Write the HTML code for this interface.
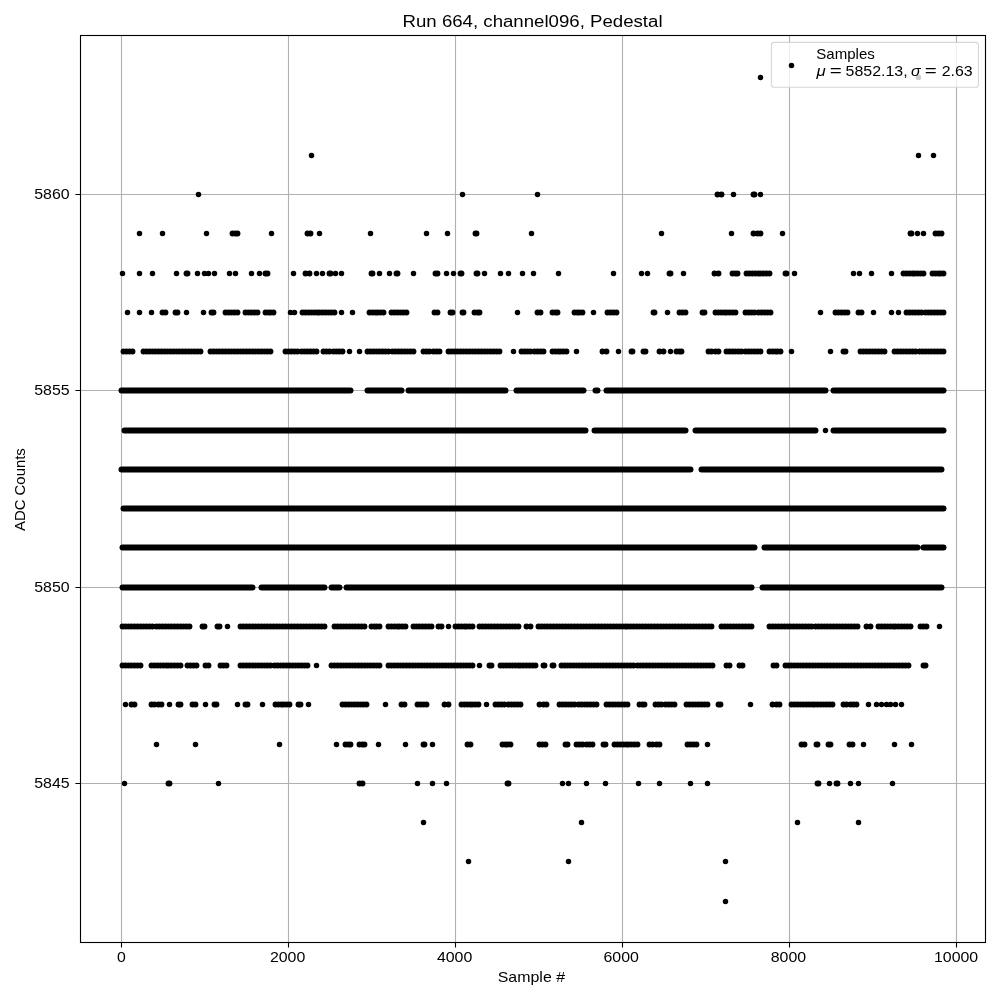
<!DOCTYPE html>
<html><head><meta charset="utf-8"><style>
html,body{margin:0;padding:0;background:#fff;width:1000px;height:1000px;overflow:hidden}
svg{display:block;will-change:transform}
text{font-family:"Liberation Sans",sans-serif;fill:#000}
</style></head><body>
<svg width="1000" height="1000" viewBox="0 0 1000 1000">
<rect x="0" y="0" width="1000" height="1000" fill="#fff"/>
<path d="M121.5 35.5V942.5M288.5 35.5V942.5M455.5 35.5V942.5M622.5 35.5V942.5M789.5 35.5V942.5M956.5 35.5V942.5M80.5 783.5H985.5M80.5 587.5H985.5M80.5 390.5H985.5M80.5 194.5H985.5" stroke="#b0b0b0" stroke-width="1.11" fill="none"/>
<path d="M121.5 390.5H350.5M367.5 390.5H401.5M408.5 390.5H505.5M516.5 390.5H583.5M595.5 390.5H597.5M606.5 390.5H825.5M833.5 390.5H943.5M124.5 430.5H585.5M594.5 430.5H685.5M695.5 430.5H815.5M833.5 430.5H943.5M121.5 469.5H690.5M701.5 469.5H941.5M123.5 508.5H943.5M122.5 547.5H754.5M764.5 547.5H917.5M923.5 547.5H943.5M122.5 587.5H252.5M261.5 587.5H324.5M331.5 587.5H339.5M346.5 587.5H751.5M762.5 587.5H941.5" stroke="#000" stroke-width="6" stroke-linecap="round" fill="none"/>
<path d="M717.5 194.5h0M721.5 194.5h0M753.5 194.5h0M754.5 194.5h0M232.5 233.5h0M235.5 233.5h0M237.5 233.5h0M307.5 233.5h0M310.5 233.5h0M475.5 233.5h0M476.5 233.5h0M753.5 233.5h0M757.5 233.5h0M760.5 233.5h0M910.5 233.5h0M911.5 233.5h0M935.5 233.5h0M938.5 233.5h0M941.5 233.5h0M186.5 273.5h0M187.5 273.5h0M265.5 273.5h0M267.5 273.5h0M305.5 273.5h0M309.5 273.5h0M329.5 273.5h0M330.5 273.5h0M371.5 273.5h0M372.5 273.5h0M396.5 273.5h0M397.5 273.5h0M435.5 273.5h0M437.5 273.5h0M460.5 273.5h0M461.5 273.5h0M476.5 273.5h0M477.5 273.5h0M669.5 273.5h0M670.5 273.5h0M714.5 273.5h0M718.5 273.5h0M732.5 273.5h0M735.5 273.5h0M737.5 273.5h0M746.5 273.5h0M749.5 273.5h0M752.5 273.5h0M755.5 273.5h0M758.5 273.5h0M760.5 273.5h0M763.5 273.5h0M766.5 273.5h0M769.5 273.5h0M785.5 273.5h0M786.5 273.5h0M903.5 273.5h0M906.5 273.5h0M909.5 273.5h0M912.5 273.5h0M914.5 273.5h0M917.5 273.5h0M920.5 273.5h0M923.5 273.5h0M932.5 273.5h0M935.5 273.5h0M938.5 273.5h0M940.5 273.5h0M943.5 273.5h0M162.5 312.5h0M165.5 312.5h0M175.5 312.5h0M177.5 312.5h0M211.5 312.5h0M213.5 312.5h0M225.5 312.5h0M228.5 312.5h0M231.5 312.5h0M234.5 312.5h0M237.5 312.5h0M245.5 312.5h0M248.5 312.5h0M251.5 312.5h0M254.5 312.5h0M257.5 312.5h0M265.5 312.5h0M268.5 312.5h0M270.5 312.5h0M273.5 312.5h0M302.5 312.5h0M305.5 312.5h0M308.5 312.5h0M311.5 312.5h0M314.5 312.5h0M317.5 312.5h0M319.5 312.5h0M322.5 312.5h0M325.5 312.5h0M328.5 312.5h0M331.5 312.5h0M334.5 312.5h0M369.5 312.5h0M372.5 312.5h0M375.5 312.5h0M377.5 312.5h0M380.5 312.5h0M383.5 312.5h0M391.5 312.5h0M394.5 312.5h0M397.5 312.5h0M400.5 312.5h0M403.5 312.5h0M406.5 312.5h0M434.5 312.5h0M437.5 312.5h0M450.5 312.5h0M452.5 312.5h0M462.5 312.5h0M463.5 312.5h0M474.5 312.5h0M477.5 312.5h0M479.5 312.5h0M537.5 312.5h0M540.5 312.5h0M552.5 312.5h0M555.5 312.5h0M557.5 312.5h0M574.5 312.5h0M577.5 312.5h0M579.5 312.5h0M582.5 312.5h0M607.5 312.5h0M610.5 312.5h0M613.5 312.5h0M616.5 312.5h0M653.5 312.5h0M654.5 312.5h0M679.5 312.5h0M682.5 312.5h0M685.5 312.5h0M702.5 312.5h0M704.5 312.5h0M715.5 312.5h0M718.5 312.5h0M721.5 312.5h0M724.5 312.5h0M726.5 312.5h0M729.5 312.5h0M732.5 312.5h0M735.5 312.5h0M745.5 312.5h0M748.5 312.5h0M751.5 312.5h0M754.5 312.5h0M758.5 312.5h0M761.5 312.5h0M764.5 312.5h0M767.5 312.5h0M770.5 312.5h0M835.5 312.5h0M838.5 312.5h0M841.5 312.5h0M844.5 312.5h0M847.5 312.5h0M858.5 312.5h0M861.5 312.5h0M906.5 312.5h0M909.5 312.5h0M912.5 312.5h0M915.5 312.5h0M918.5 312.5h0M921.5 312.5h0M925.5 312.5h0M928.5 312.5h0M931.5 312.5h0M934.5 312.5h0M937.5 312.5h0M940.5 312.5h0M943.5 312.5h0M123.5 351.5h0M126.5 351.5h0M129.5 351.5h0M132.5 351.5h0M143.5 351.5h0M146.5 351.5h0M149.5 351.5h0M152.5 351.5h0M155.5 351.5h0M158.5 351.5h0M161.5 351.5h0M164.5 351.5h0M167.5 351.5h0M170.5 351.5h0M173.5 351.5h0M176.5 351.5h0M179.5 351.5h0M182.5 351.5h0M185.5 351.5h0M188.5 351.5h0M191.5 351.5h0M194.5 351.5h0M197.5 351.5h0M200.5 351.5h0M210.5 351.5h0M213.5 351.5h0M216.5 351.5h0M219.5 351.5h0M222.5 351.5h0M225.5 351.5h0M228.5 351.5h0M231.5 351.5h0M234.5 351.5h0M237.5 351.5h0M240.5 351.5h0M243.5 351.5h0M246.5 351.5h0M249.5 351.5h0M252.5 351.5h0M255.5 351.5h0M258.5 351.5h0M261.5 351.5h0M264.5 351.5h0M267.5 351.5h0M270.5 351.5h0M285.5 351.5h0M288.5 351.5h0M291.5 351.5h0M294.5 351.5h0M297.5 351.5h0M301.5 351.5h0M304.5 351.5h0M307.5 351.5h0M310.5 351.5h0M313.5 351.5h0M316.5 351.5h0M323.5 351.5h0M326.5 351.5h0M329.5 351.5h0M333.5 351.5h0M336.5 351.5h0M339.5 351.5h0M342.5 351.5h0M367.5 351.5h0M370.5 351.5h0M373.5 351.5h0M376.5 351.5h0M379.5 351.5h0M382.5 351.5h0M385.5 351.5h0M388.5 351.5h0M392.5 351.5h0M395.5 351.5h0M398.5 351.5h0M401.5 351.5h0M404.5 351.5h0M407.5 351.5h0M410.5 351.5h0M413.5 351.5h0M423.5 351.5h0M426.5 351.5h0M429.5 351.5h0M433.5 351.5h0M436.5 351.5h0M439.5 351.5h0M448.5 351.5h0M451.5 351.5h0M454.5 351.5h0M457.5 351.5h0M460.5 351.5h0M463.5 351.5h0M466.5 351.5h0M469.5 351.5h0M472.5 351.5h0M475.5 351.5h0M478.5 351.5h0M481.5 351.5h0M484.5 351.5h0M487.5 351.5h0M490.5 351.5h0M493.5 351.5h0M496.5 351.5h0M499.5 351.5h0M521.5 351.5h0M524.5 351.5h0M527.5 351.5h0M530.5 351.5h0M534.5 351.5h0M537.5 351.5h0M540.5 351.5h0M543.5 351.5h0M552.5 351.5h0M555.5 351.5h0M558.5 351.5h0M560.5 351.5h0M563.5 351.5h0M566.5 351.5h0M602.5 351.5h0M606.5 351.5h0M631.5 351.5h0M632.5 351.5h0M643.5 351.5h0M645.5 351.5h0M659.5 351.5h0M663.5 351.5h0M676.5 351.5h0M679.5 351.5h0M681.5 351.5h0M708.5 351.5h0M711.5 351.5h0M715.5 351.5h0M718.5 351.5h0M726.5 351.5h0M729.5 351.5h0M732.5 351.5h0M735.5 351.5h0M738.5 351.5h0M741.5 351.5h0M745.5 351.5h0M748.5 351.5h0M751.5 351.5h0M754.5 351.5h0M757.5 351.5h0M760.5 351.5h0M769.5 351.5h0M772.5 351.5h0M775.5 351.5h0M777.5 351.5h0M780.5 351.5h0M843.5 351.5h0M845.5 351.5h0M860.5 351.5h0M863.5 351.5h0M866.5 351.5h0M869.5 351.5h0M872.5 351.5h0M875.5 351.5h0M878.5 351.5h0M881.5 351.5h0M884.5 351.5h0M894.5 351.5h0M897.5 351.5h0M900.5 351.5h0M903.5 351.5h0M906.5 351.5h0M909.5 351.5h0M912.5 351.5h0M915.5 351.5h0M919.5 351.5h0M922.5 351.5h0M925.5 351.5h0M928.5 351.5h0M931.5 351.5h0M934.5 351.5h0M937.5 351.5h0M940.5 351.5h0M943.5 351.5h0M122.5 626.5h0M125.5 626.5h0M128.5 626.5h0M131.5 626.5h0M134.5 626.5h0M137.5 626.5h0M140.5 626.5h0M143.5 626.5h0M146.5 626.5h0M149.5 626.5h0M152.5 626.5h0M156.5 626.5h0M159.5 626.5h0M162.5 626.5h0M165.5 626.5h0M168.5 626.5h0M171.5 626.5h0M174.5 626.5h0M177.5 626.5h0M180.5 626.5h0M183.5 626.5h0M186.5 626.5h0M189.5 626.5h0M202.5 626.5h0M204.5 626.5h0M217.5 626.5h0M219.5 626.5h0M240.5 626.5h0M243.5 626.5h0M246.5 626.5h0M249.5 626.5h0M252.5 626.5h0M255.5 626.5h0M258.5 626.5h0M261.5 626.5h0M264.5 626.5h0M267.5 626.5h0M270.5 626.5h0M273.5 626.5h0M276.5 626.5h0M279.5 626.5h0M282.5 626.5h0M285.5 626.5h0M288.5 626.5h0M291.5 626.5h0M294.5 626.5h0M297.5 626.5h0M300.5 626.5h0M303.5 626.5h0M306.5 626.5h0M309.5 626.5h0M312.5 626.5h0M315.5 626.5h0M318.5 626.5h0M321.5 626.5h0M324.5 626.5h0M334.5 626.5h0M337.5 626.5h0M340.5 626.5h0M343.5 626.5h0M346.5 626.5h0M349.5 626.5h0M352.5 626.5h0M355.5 626.5h0M358.5 626.5h0M361.5 626.5h0M364.5 626.5h0M371.5 626.5h0M374.5 626.5h0M376.5 626.5h0M379.5 626.5h0M388.5 626.5h0M391.5 626.5h0M394.5 626.5h0M397.5 626.5h0M399.5 626.5h0M402.5 626.5h0M405.5 626.5h0M413.5 626.5h0M416.5 626.5h0M419.5 626.5h0M422.5 626.5h0M425.5 626.5h0M428.5 626.5h0M431.5 626.5h0M438.5 626.5h0M441.5 626.5h0M455.5 626.5h0M458.5 626.5h0M461.5 626.5h0M464.5 626.5h0M466.5 626.5h0M469.5 626.5h0M472.5 626.5h0M479.5 626.5h0M482.5 626.5h0M485.5 626.5h0M488.5 626.5h0M491.5 626.5h0M494.5 626.5h0M497.5 626.5h0M500.5 626.5h0M503.5 626.5h0M506.5 626.5h0M509.5 626.5h0M512.5 626.5h0M515.5 626.5h0M518.5 626.5h0M526.5 626.5h0M530.5 626.5h0M538.5 626.5h0M541.5 626.5h0M544.5 626.5h0M547.5 626.5h0M550.5 626.5h0M553.5 626.5h0M556.5 626.5h0M559.5 626.5h0M562.5 626.5h0M565.5 626.5h0M568.5 626.5h0M571.5 626.5h0M574.5 626.5h0M577.5 626.5h0M580.5 626.5h0M583.5 626.5h0M586.5 626.5h0M589.5 626.5h0M592.5 626.5h0M595.5 626.5h0M598.5 626.5h0M601.5 626.5h0M604.5 626.5h0M607.5 626.5h0M610.5 626.5h0M613.5 626.5h0M616.5 626.5h0M619.5 626.5h0M622.5 626.5h0M625.5 626.5h0M627.5 626.5h0M630.5 626.5h0M633.5 626.5h0M636.5 626.5h0M639.5 626.5h0M642.5 626.5h0M645.5 626.5h0M648.5 626.5h0M651.5 626.5h0M654.5 626.5h0M657.5 626.5h0M660.5 626.5h0M663.5 626.5h0M666.5 626.5h0M669.5 626.5h0M672.5 626.5h0M675.5 626.5h0M678.5 626.5h0M681.5 626.5h0M684.5 626.5h0M687.5 626.5h0M690.5 626.5h0M693.5 626.5h0M696.5 626.5h0M699.5 626.5h0M702.5 626.5h0M705.5 626.5h0M708.5 626.5h0M711.5 626.5h0M721.5 626.5h0M724.5 626.5h0M727.5 626.5h0M730.5 626.5h0M733.5 626.5h0M736.5 626.5h0M739.5 626.5h0M742.5 626.5h0M745.5 626.5h0M748.5 626.5h0M751.5 626.5h0M769.5 626.5h0M772.5 626.5h0M775.5 626.5h0M778.5 626.5h0M781.5 626.5h0M784.5 626.5h0M787.5 626.5h0M790.5 626.5h0M793.5 626.5h0M796.5 626.5h0M799.5 626.5h0M802.5 626.5h0M805.5 626.5h0M808.5 626.5h0M811.5 626.5h0M815.5 626.5h0M818.5 626.5h0M821.5 626.5h0M824.5 626.5h0M827.5 626.5h0M830.5 626.5h0M833.5 626.5h0M836.5 626.5h0M839.5 626.5h0M842.5 626.5h0M845.5 626.5h0M848.5 626.5h0M851.5 626.5h0M854.5 626.5h0M857.5 626.5h0M866.5 626.5h0M870.5 626.5h0M878.5 626.5h0M881.5 626.5h0M884.5 626.5h0M887.5 626.5h0M890.5 626.5h0M893.5 626.5h0M895.5 626.5h0M898.5 626.5h0M901.5 626.5h0M904.5 626.5h0M907.5 626.5h0M910.5 626.5h0M920.5 626.5h0M923.5 626.5h0M926.5 626.5h0M122.5 665.5h0M125.5 665.5h0M128.5 665.5h0M131.5 665.5h0M134.5 665.5h0M137.5 665.5h0M140.5 665.5h0M151.5 665.5h0M154.5 665.5h0M157.5 665.5h0M160.5 665.5h0M163.5 665.5h0M166.5 665.5h0M168.5 665.5h0M171.5 665.5h0M174.5 665.5h0M177.5 665.5h0M180.5 665.5h0M187.5 665.5h0M190.5 665.5h0M193.5 665.5h0M196.5 665.5h0M205.5 665.5h0M208.5 665.5h0M220.5 665.5h0M223.5 665.5h0M226.5 665.5h0M240.5 665.5h0M243.5 665.5h0M246.5 665.5h0M249.5 665.5h0M252.5 665.5h0M255.5 665.5h0M258.5 665.5h0M261.5 665.5h0M264.5 665.5h0M267.5 665.5h0M270.5 665.5h0M274.5 665.5h0M277.5 665.5h0M280.5 665.5h0M283.5 665.5h0M286.5 665.5h0M289.5 665.5h0M292.5 665.5h0M295.5 665.5h0M298.5 665.5h0M301.5 665.5h0M304.5 665.5h0M307.5 665.5h0M331.5 665.5h0M334.5 665.5h0M337.5 665.5h0M340.5 665.5h0M343.5 665.5h0M346.5 665.5h0M349.5 665.5h0M352.5 665.5h0M355.5 665.5h0M358.5 665.5h0M361.5 665.5h0M364.5 665.5h0M367.5 665.5h0M370.5 665.5h0M373.5 665.5h0M376.5 665.5h0M379.5 665.5h0M388.5 665.5h0M391.5 665.5h0M394.5 665.5h0M397.5 665.5h0M400.5 665.5h0M403.5 665.5h0M406.5 665.5h0M409.5 665.5h0M412.5 665.5h0M415.5 665.5h0M418.5 665.5h0M421.5 665.5h0M424.5 665.5h0M427.5 665.5h0M430.5 665.5h0M433.5 665.5h0M436.5 665.5h0M439.5 665.5h0M442.5 665.5h0M445.5 665.5h0M448.5 665.5h0M451.5 665.5h0M454.5 665.5h0M457.5 665.5h0M460.5 665.5h0M463.5 665.5h0M466.5 665.5h0M469.5 665.5h0M472.5 665.5h0M489.5 665.5h0M491.5 665.5h0M500.5 665.5h0M503.5 665.5h0M506.5 665.5h0M509.5 665.5h0M512.5 665.5h0M515.5 665.5h0M518.5 665.5h0M520.5 665.5h0M523.5 665.5h0M526.5 665.5h0M529.5 665.5h0M532.5 665.5h0M535.5 665.5h0M543.5 665.5h0M544.5 665.5h0M552.5 665.5h0M553.5 665.5h0M561.5 665.5h0M564.5 665.5h0M567.5 665.5h0M570.5 665.5h0M573.5 665.5h0M576.5 665.5h0M579.5 665.5h0M582.5 665.5h0M585.5 665.5h0M588.5 665.5h0M591.5 665.5h0M594.5 665.5h0M597.5 665.5h0M600.5 665.5h0M603.5 665.5h0M606.5 665.5h0M609.5 665.5h0M612.5 665.5h0M615.5 665.5h0M618.5 665.5h0M621.5 665.5h0M624.5 665.5h0M627.5 665.5h0M630.5 665.5h0M633.5 665.5h0M637.5 665.5h0M640.5 665.5h0M643.5 665.5h0M646.5 665.5h0M649.5 665.5h0M652.5 665.5h0M655.5 665.5h0M658.5 665.5h0M661.5 665.5h0M664.5 665.5h0M667.5 665.5h0M670.5 665.5h0M673.5 665.5h0M676.5 665.5h0M679.5 665.5h0M682.5 665.5h0M685.5 665.5h0M688.5 665.5h0M691.5 665.5h0M694.5 665.5h0M697.5 665.5h0M700.5 665.5h0M703.5 665.5h0M706.5 665.5h0M709.5 665.5h0M712.5 665.5h0M726.5 665.5h0M729.5 665.5h0M739.5 665.5h0M742.5 665.5h0M773.5 665.5h0M776.5 665.5h0M785.5 665.5h0M788.5 665.5h0M791.5 665.5h0M794.5 665.5h0M797.5 665.5h0M800.5 665.5h0M803.5 665.5h0M806.5 665.5h0M809.5 665.5h0M812.5 665.5h0M815.5 665.5h0M818.5 665.5h0M821.5 665.5h0M824.5 665.5h0M827.5 665.5h0M830.5 665.5h0M833.5 665.5h0M836.5 665.5h0M839.5 665.5h0M842.5 665.5h0M845.5 665.5h0M848.5 665.5h0M851.5 665.5h0M854.5 665.5h0M857.5 665.5h0M860.5 665.5h0M863.5 665.5h0M866.5 665.5h0M869.5 665.5h0M872.5 665.5h0M875.5 665.5h0M878.5 665.5h0M881.5 665.5h0M884.5 665.5h0M887.5 665.5h0M890.5 665.5h0M893.5 665.5h0M896.5 665.5h0M899.5 665.5h0M902.5 665.5h0M905.5 665.5h0M908.5 665.5h0M923.5 665.5h0M925.5 665.5h0M131.5 704.5h0M134.5 704.5h0M151.5 704.5h0M154.5 704.5h0M158.5 704.5h0M161.5 704.5h0M178.5 704.5h0M180.5 704.5h0M192.5 704.5h0M195.5 704.5h0M214.5 704.5h0M216.5 704.5h0M245.5 704.5h0M247.5 704.5h0M275.5 704.5h0M278.5 704.5h0M281.5 704.5h0M283.5 704.5h0M286.5 704.5h0M289.5 704.5h0M298.5 704.5h0M300.5 704.5h0M342.5 704.5h0M345.5 704.5h0M348.5 704.5h0M351.5 704.5h0M354.5 704.5h0M357.5 704.5h0M360.5 704.5h0M363.5 704.5h0M366.5 704.5h0M401.5 704.5h0M404.5 704.5h0M417.5 704.5h0M420.5 704.5h0M423.5 704.5h0M426.5 704.5h0M444.5 704.5h0M448.5 704.5h0M461.5 704.5h0M464.5 704.5h0M467.5 704.5h0M470.5 704.5h0M472.5 704.5h0M475.5 704.5h0M478.5 704.5h0M495.5 704.5h0M498.5 704.5h0M501.5 704.5h0M504.5 704.5h0M508.5 704.5h0M511.5 704.5h0M514.5 704.5h0M517.5 704.5h0M520.5 704.5h0M539.5 704.5h0M543.5 704.5h0M546.5 704.5h0M559.5 704.5h0M562.5 704.5h0M565.5 704.5h0M568.5 704.5h0M571.5 704.5h0M574.5 704.5h0M578.5 704.5h0M581.5 704.5h0M584.5 704.5h0M587.5 704.5h0M590.5 704.5h0M593.5 704.5h0M596.5 704.5h0M606.5 704.5h0M609.5 704.5h0M612.5 704.5h0M615.5 704.5h0M618.5 704.5h0M621.5 704.5h0M624.5 704.5h0M627.5 704.5h0M639.5 704.5h0M642.5 704.5h0M644.5 704.5h0M655.5 704.5h0M658.5 704.5h0M661.5 704.5h0M665.5 704.5h0M668.5 704.5h0M671.5 704.5h0M674.5 704.5h0M686.5 704.5h0M689.5 704.5h0M692.5 704.5h0M695.5 704.5h0M698.5 704.5h0M701.5 704.5h0M704.5 704.5h0M707.5 704.5h0M718.5 704.5h0M720.5 704.5h0M772.5 704.5h0M776.5 704.5h0M779.5 704.5h0M791.5 704.5h0M794.5 704.5h0M797.5 704.5h0M800.5 704.5h0M803.5 704.5h0M806.5 704.5h0M809.5 704.5h0M812.5 704.5h0M814.5 704.5h0M817.5 704.5h0M820.5 704.5h0M823.5 704.5h0M826.5 704.5h0M829.5 704.5h0M832.5 704.5h0M843.5 704.5h0M846.5 704.5h0M850.5 704.5h0M853.5 704.5h0M856.5 704.5h0M345.5 744.5h0M348.5 744.5h0M350.5 744.5h0M359.5 744.5h0M362.5 744.5h0M364.5 744.5h0M423.5 744.5h0M424.5 744.5h0M467.5 744.5h0M470.5 744.5h0M502.5 744.5h0M505.5 744.5h0M507.5 744.5h0M510.5 744.5h0M539.5 744.5h0M542.5 744.5h0M545.5 744.5h0M565.5 744.5h0M567.5 744.5h0M576.5 744.5h0M579.5 744.5h0M582.5 744.5h0M586.5 744.5h0M589.5 744.5h0M592.5 744.5h0M603.5 744.5h0M605.5 744.5h0M614.5 744.5h0M617.5 744.5h0M620.5 744.5h0M623.5 744.5h0M626.5 744.5h0M628.5 744.5h0M631.5 744.5h0M634.5 744.5h0M637.5 744.5h0M649.5 744.5h0M652.5 744.5h0M656.5 744.5h0M659.5 744.5h0M687.5 744.5h0M690.5 744.5h0M693.5 744.5h0M696.5 744.5h0M801.5 744.5h0M804.5 744.5h0M816.5 744.5h0M817.5 744.5h0M828.5 744.5h0M830.5 744.5h0M849.5 744.5h0M852.5 744.5h0M168.5 783.5h0M169.5 783.5h0M359.5 783.5h0M362.5 783.5h0M507.5 783.5h0M508.5 783.5h0M817.5 783.5h0M818.5 783.5h0M836.5 783.5h0M837.5 783.5h0" stroke="#000" stroke-width="5.9" stroke-linecap="round" fill="none"/>
<path d="M311.5 155.5h0M918.5 155.5h0M933.5 155.5h0M198.5 194.5h0M462.5 194.5h0M537.5 194.5h0M733.5 194.5h0M760.5 194.5h0M139.5 233.5h0M162.5 233.5h0M206.5 233.5h0M271.5 233.5h0M319.5 233.5h0M370.5 233.5h0M426.5 233.5h0M447.5 233.5h0M531.5 233.5h0M661.5 233.5h0M731.5 233.5h0M782.5 233.5h0M917.5 233.5h0M923.5 233.5h0M122.5 273.5h0M139.5 273.5h0M152.5 273.5h0M176.5 273.5h0M197.5 273.5h0M204.5 273.5h0M208.5 273.5h0M214.5 273.5h0M229.5 273.5h0M235.5 273.5h0M251.5 273.5h0M259.5 273.5h0M293.5 273.5h0M316.5 273.5h0M322.5 273.5h0M335.5 273.5h0M341.5 273.5h0M379.5 273.5h0M389.5 273.5h0M413.5 273.5h0M446.5 273.5h0M453.5 273.5h0M484.5 273.5h0M500.5 273.5h0M508.5 273.5h0M522.5 273.5h0M533.5 273.5h0M558.5 273.5h0M613.5 273.5h0M641.5 273.5h0M647.5 273.5h0M683.5 273.5h0M794.5 273.5h0M853.5 273.5h0M859.5 273.5h0M871.5 273.5h0M891.5 273.5h0M760.5 77.5h0M918.5 77.5h0M127.5 312.5h0M139.5 312.5h0M151.5 312.5h0M186.5 312.5h0M203.5 312.5h0M290.5 312.5h0M294.5 312.5h0M341.5 312.5h0M352.5 312.5h0M517.5 312.5h0M593.5 312.5h0M667.5 312.5h0M820.5 312.5h0M873.5 312.5h0M891.5 312.5h0M898.5 312.5h0M349.5 351.5h0M359.5 351.5h0M513.5 351.5h0M576.5 351.5h0M618.5 351.5h0M670.5 351.5h0M791.5 351.5h0M830.5 351.5h0M825.5 430.5h0M227.5 626.5h0M448.5 626.5h0M939.5 626.5h0M316.5 665.5h0M479.5 665.5h0M125.5 704.5h0M169.5 704.5h0M205.5 704.5h0M237.5 704.5h0M262.5 704.5h0M308.5 704.5h0M385.5 704.5h0M486.5 704.5h0M750.5 704.5h0M868.5 704.5h0M876.5 704.5h0M881.5 704.5h0M886.5 704.5h0M890.5 704.5h0M895.5 704.5h0M901.5 704.5h0M156.5 744.5h0M195.5 744.5h0M279.5 744.5h0M336.5 744.5h0M378.5 744.5h0M405.5 744.5h0M432.5 744.5h0M707.5 744.5h0M863.5 744.5h0M894.5 744.5h0M911.5 744.5h0M124.5 783.5h0M218.5 783.5h0M417.5 783.5h0M432.5 783.5h0M446.5 783.5h0M562.5 783.5h0M568.5 783.5h0M586.5 783.5h0M605.5 783.5h0M638.5 783.5h0M659.5 783.5h0M690.5 783.5h0M707.5 783.5h0M829.5 783.5h0M850.5 783.5h0M858.5 783.5h0M892.5 783.5h0M423.5 822.5h0M581.5 822.5h0M797.5 822.5h0M858.5 822.5h0M468.5 861.5h0M568.5 861.5h0M725.5 861.5h0M725.5 901.5h0" stroke="#000" stroke-width="5.5" stroke-linecap="round" fill="none"/>
<rect x="80.5" y="35.5" width="905" height="907" fill="none" stroke="#000" stroke-width="1.11"/>
<path d="M121.5 942.5v5.1M288.5 942.5v5.1M455.5 942.5v5.1M622.5 942.5v5.1M789.5 942.5v5.1M956.5 942.5v5.1M80.5 783.5h-5.1M80.5 587.5h-5.1M80.5 390.5h-5.1M80.5 194.5h-5.1" stroke="#000" stroke-width="1.11" fill="none"/>
<g font-size="14.6"><text x="121.4" y="962" text-anchor="middle" textLength="8.8" lengthAdjust="spacingAndGlyphs">0</text><text x="287.6" y="962" text-anchor="middle" textLength="35.4" lengthAdjust="spacingAndGlyphs">2000</text><text x="454.6" y="962" text-anchor="middle" textLength="35.4" lengthAdjust="spacingAndGlyphs">4000</text><text x="621.2" y="962" text-anchor="middle" textLength="35.4" lengthAdjust="spacingAndGlyphs">6000</text><text x="788.4" y="962" text-anchor="middle" textLength="35.4" lengthAdjust="spacingAndGlyphs">8000</text><text x="956.1" y="962" text-anchor="middle" textLength="44.2" lengthAdjust="spacingAndGlyphs">10000</text><text x="69.6" y="788.1" text-anchor="end" textLength="35.4" lengthAdjust="spacingAndGlyphs">5845</text><text x="69.6" y="592.1" text-anchor="end" textLength="35.4" lengthAdjust="spacingAndGlyphs">5850</text><text x="69.6" y="395.1" text-anchor="end" textLength="35.4" lengthAdjust="spacingAndGlyphs">5855</text><text x="69.6" y="199.1" text-anchor="end" textLength="35.4" lengthAdjust="spacingAndGlyphs">5860</text></g>
<text x="532.55" y="27" font-size="17.3" text-anchor="middle" textLength="260" lengthAdjust="spacingAndGlyphs">Run 664, channel096, Pedestal</text>
<text x="531.4" y="981.8" font-size="14.6" text-anchor="middle" textLength="67.3" lengthAdjust="spacingAndGlyphs">Sample #</text>
<text transform="translate(25,489.6) rotate(-90)" x="0" y="0" font-size="14.6" text-anchor="middle" textLength="82.8" lengthAdjust="spacingAndGlyphs">ADC Counts</text>
<rect x="771.4" y="42.4" width="207" height="44.8" rx="2.8" fill="#fff" fill-opacity="0.8" stroke="#cccccc" stroke-opacity="0.8" stroke-width="1.11"/>
<path d="M791.5 65.5h0" stroke="#000" stroke-width="5.5" stroke-linecap="round"/>
<text x="816.3" y="58.6" font-size="14.6" textLength="58.5" lengthAdjust="spacingAndGlyphs">Samples</text>
<g font-size="14.6"><text x="816.6" y="76" font-style="italic" textLength="9.2" lengthAdjust="spacingAndGlyphs">μ</text><text x="829.8" y="76" textLength="12" lengthAdjust="spacingAndGlyphs">=</text><text x="845.6" y="76" textLength="62" lengthAdjust="spacingAndGlyphs">5852.13,</text><text x="910.9" y="76" font-style="italic" textLength="9.6" lengthAdjust="spacingAndGlyphs">σ</text><text x="924.8" y="76" textLength="12" lengthAdjust="spacingAndGlyphs">=</text><text x="941.7" y="76" textLength="31" lengthAdjust="spacingAndGlyphs">2.63</text></g>
</svg>
</body></html>
